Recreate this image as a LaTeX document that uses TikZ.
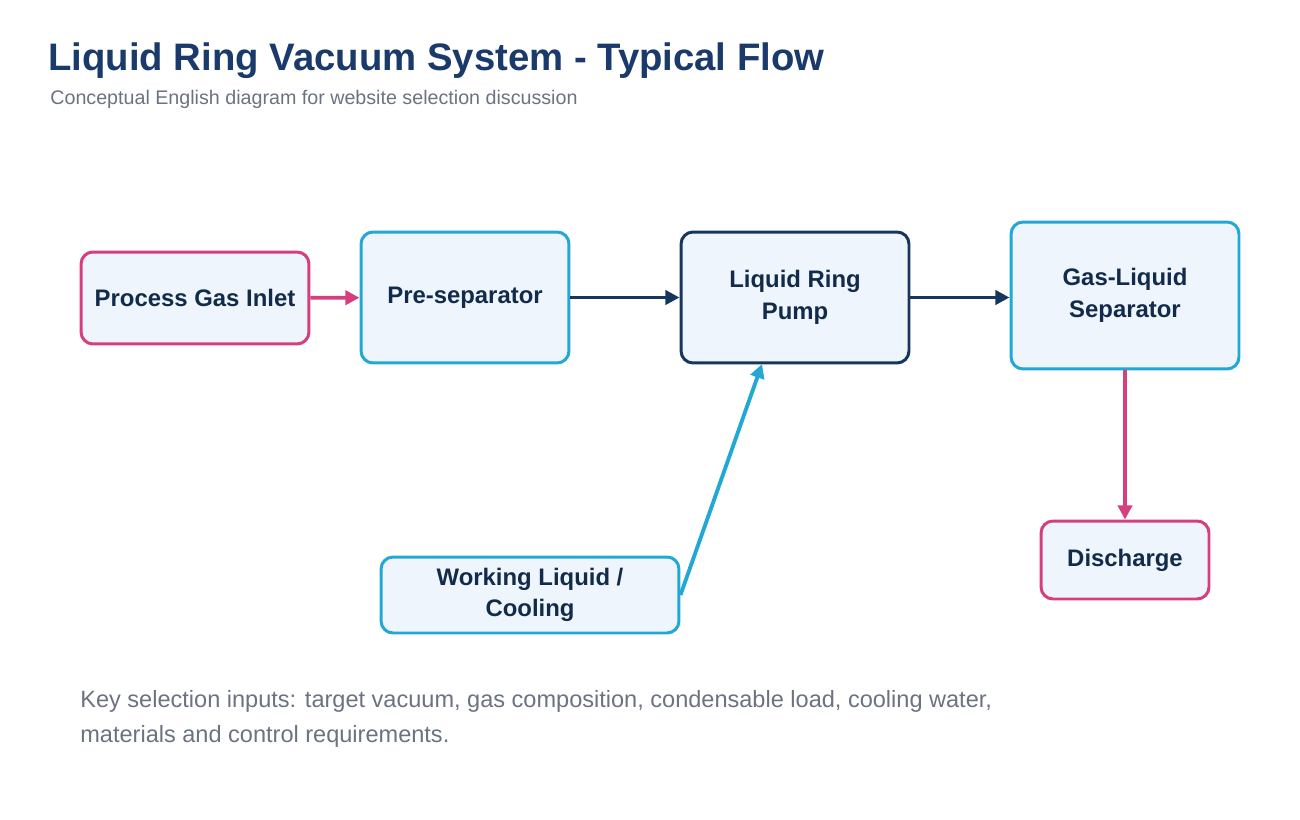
\documentclass[tikz,border=0pt]{standalone}
\usepackage{fontspec}
\setmainfont{Liberation Sans}
\usetikzlibrary{arrows.meta,positioning}
\definecolor{pinkc}{HTML}{D63F7F}
\definecolor{cyanc}{HTML}{22A8D4}
\definecolor{navyc}{HTML}{17365D}
\definecolor{boxfill}{HTML}{EEF5FC}
\definecolor{grayc}{HTML}{6B7280}
\definecolor{titlec}{HTML}{1A3A6B}
\tikzset{
  blk/.style={draw, line width=1.7pt, fill=boxfill, rounded corners=0.24cm,
    align=center, font=\fontsize{13.6}{18}\selectfont\bfseries, text=navyc!80!black},
  flow/.style={line width=2.2pt, -{Triangle[length=8pt,width=8pt]}}
}
\begin{document}
\begin{tikzpicture}[x=0.02cm,y=-0.02cm]
  \useasboundingbox (0,0) rectangle (1300,820);
  \node[anchor=base west, inner sep=0, font=\fontsize{21.8}{26}\selectfont\bfseries, text=titlec] (title) at (48,71) {Liquid Ring Vacuum System - Typical Flow};
  \node[anchor=base west, inner sep=0, font=\fontsize{11.2}{13}\selectfont, text=grayc] (sub) at (50,105) {Conceptual English diagram for website selection discussion};

  \node[blk, draw=pinkc, minimum width=4.56cm, minimum height=1.84cm] (inlet) at (195,298) {Process Gas Inlet};
  \node[blk, draw=cyanc, minimum width=4.16cm, minimum height=2.62cm] (presep) at (465,297.5) {Pre-separator};
  \node[blk, draw=navyc, minimum width=4.56cm, minimum height=2.62cm] (pump) at (795,297.5) {Liquid Ring\\Pump};
  \node[blk, draw=cyanc, minimum width=4.56cm, minimum height=2.94cm] (gls) at (1125,295.5) {Gas-Liquid\\Separator};
  \node[blk, draw=pinkc, minimum width=3.36cm, minimum height=1.56cm] (disch) at (1125,560) {Discharge};
  \node[blk, draw=cyanc, minimum width=5.96cm, minimum height=1.52cm] (wl) at (530,595) {Working Liquid /\\Cooling};
  \coordinate (pumpin) at (762,364);

  \draw[flow, pinkc] (inlet) -- (presep);
  \draw[flow, navyc] (presep) -- (pump);
  \draw[flow, navyc] (pump.east) -- (gls.west |- pump.east);
  \draw[flow, pinkc] (gls) -- (disch);
  \draw[flow, cyanc] (wl.east) -- (pumpin);

  \node[anchor=north west, inner sep=0, align=left, font=\fontsize{13.4}{19.8}\selectfont, text=grayc] (note) at (80,690) {Key selection inputs: target vacuum, gas composition, condensable load, cooling water,\\materials and control requirements.};
\end{tikzpicture}
\end{document}
